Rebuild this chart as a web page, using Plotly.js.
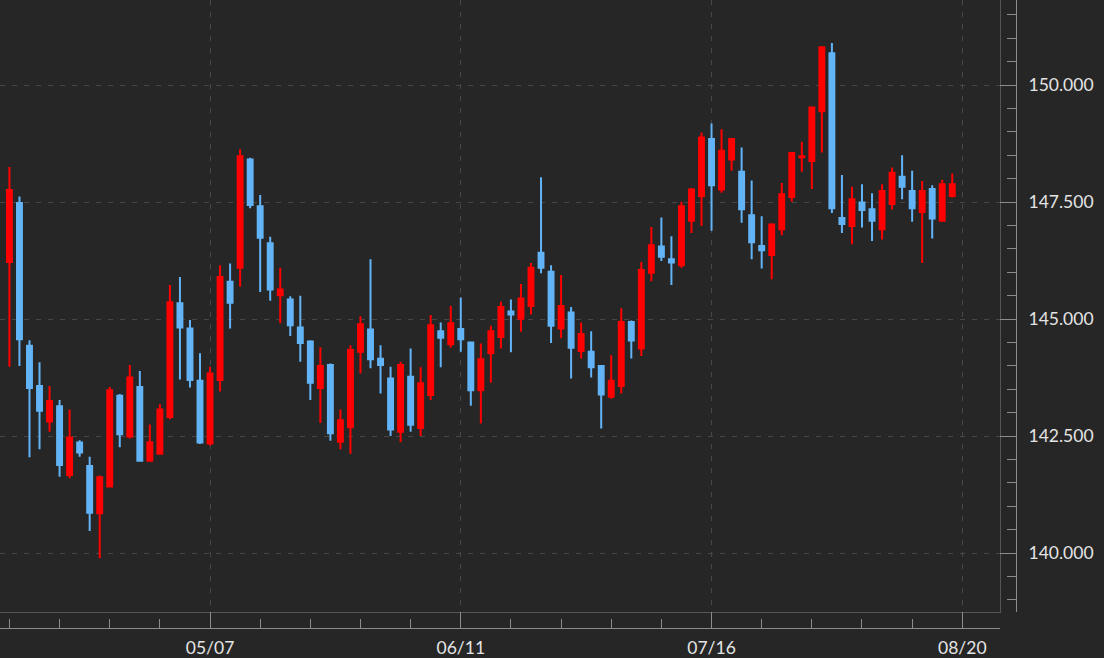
<!DOCTYPE html>
<html>
<head>
<meta charset="utf-8">
<script src="https://cdn.plot.ly/plotly-3.0.1.min.js"></script>
<style>
  html, body { margin: 0; padding: 0; background: #262626; }
  #chart { width: 1104px; height: 658px; }
</style>
</head>
<body>
<div id="chart"></div>
<script>
// Trading sessions (MM/DD); the last one (08/20) only carries an axis label
const sessions = [
  '04/09','04/10','04/11','04/12','04/15',
  '04/16','04/17','04/18','04/19','04/22',
  '04/23','04/24','04/25','04/26','04/29',
  '04/30','05/01','05/02','05/03','05/06',
  '05/07','05/08','05/09','05/10','05/13',
  '05/14','05/15','05/16','05/17','05/20',
  '05/21','05/22','05/23','05/24','05/27',
  '05/28','05/29','05/30','05/31','06/03',
  '06/04','06/05','06/06','06/07','06/10',
  '06/11','06/12','06/13','06/14','06/17',
  '06/18','06/19','06/20','06/21','06/24',
  '06/25','06/26','06/27','06/28','07/01',
  '07/02','07/03','07/04','07/05','07/08',
  '07/09','07/10','07/11','07/12','07/15',
  '07/16','07/17','07/18','07/19','07/22',
  '07/23','07/24','07/25','07/26','07/29',
  '07/30','07/31','08/01','08/02','08/05',
  '08/06','08/07','08/08','08/09','08/12',
  '08/13','08/14','08/15','08/16','08/19',
  '08/20'
];

const openP = [
  146.22,147.48,144.43,143.57,142.81,143.14,141.67,142.36,141.86,140.85,
  141.42,143.36,142.49,143.55,141.97,142.12,142.91,145.34,144.80,143.68,
  142.34,143.70,145.80,146.10,148.41,147.41,146.62,145.51,145.42,144.82,
  144.52,143.53,144.02,142.38,142.69,144.30,144.78,144.15,143.73,142.59,
  143.77,142.67,143.38,144.74,144.46,144.79,144.50,143.48,144.27,144.62,
  145.16,145.01,145.28,146.42,146.01,144.80,145.14,144.32,144.30,144.00,
  143.34,143.57,144.94,144.37,145.99,146.55,146.28,146.15,147.10,147.63,
  148.85,147.77,148.41,148.15,147.22,146.56,146.37,146.92,147.61,148.46,
  148.38,149.44,150.68,147.16,146.99,147.49,147.35,146.92,147.46,148.04,
  147.74,147.29,147.78,147.10,147.63
];
const highP = [
  148.25,147.62,144.55,144.08,143.57,143.27,143.07,142.41,142.06,141.66,
  143.55,143.40,144.02,143.89,142.75,143.18,145.73,145.90,144.98,144.27,
  143.98,146.15,146.19,148.63,148.45,147.65,146.76,146.10,145.49,145.50,
  144.55,144.40,144.05,143.07,144.44,145.06,146.28,144.44,143.98,144.09,
  144.37,143.97,145.09,144.93,145.28,145.46,144.52,144.48,144.86,145.37,
  145.42,145.75,146.20,148.03,146.15,145.94,145.26,144.93,144.74,144.02,
  144.23,145.23,144.97,146.22,146.97,147.17,146.77,147.51,147.80,148.99,
  149.18,149.06,148.87,148.67,147.96,147.20,147.05,147.91,148.57,148.79,
  149.54,150.83,150.90,148.08,147.83,147.88,147.69,147.88,148.24,148.50,
  148.17,147.95,147.86,147.98,148.11
];
const lowP = [
  143.98,144.00,142.05,142.22,142.59,141.63,141.60,142.06,140.47,139.89,
  141.40,142.26,142.45,141.95,141.95,142.10,142.86,143.71,143.54,142.33,
  142.30,143.45,144.80,145.69,147.37,145.58,145.39,144.91,144.64,144.09,
  143.27,142.78,142.40,142.22,142.12,143.84,143.95,143.41,142.50,142.37,
  142.59,142.50,143.27,143.97,144.39,144.30,143.15,142.77,143.64,144.37,
  144.29,144.73,145.10,145.98,144.49,144.59,143.73,144.16,143.75,142.66,
  143.30,143.41,144.16,144.21,145.81,146.24,145.73,146.10,146.84,146.99,
  146.89,147.70,148.17,147.06,146.28,146.08,145.85,146.79,147.51,148.15,
  147.78,148.56,147.27,146.84,146.60,146.96,146.67,146.70,147.34,147.56,
  147.08,146.20,146.72,147.08,147.60
];
const closeP = [
  147.76,144.57,143.53,143.04,143.25,141.88,142.47,142.15,140.86,141.62,
  143.48,142.54,143.75,141.97,142.37,143.07,145.36,144.82,143.70,142.36,
  143.84,145.90,145.35,148.48,147.44,146.74,145.63,145.63,144.87,144.49,
  143.64,144.00,142.56,142.84,144.34,144.89,144.14,144.02,142.64,144.02,
  142.74,143.63,144.87,144.60,144.91,144.57,143.48,144.14,144.74,145.26,
  145.10,145.44,146.10,146.10,144.86,145.28,144.39,144.68,143.97,143.39,
  143.68,144.94,144.54,146.05,146.58,146.33,146.21,147.41,147.77,148.88,
  147.86,148.60,148.85,147.35,146.64,146.47,147.02,147.67,148.55,148.48,
  149.52,150.81,147.37,147.03,147.56,147.33,147.10,147.74,148.13,147.83,
  147.37,147.74,147.15,147.88,147.88
];

const majorLabels = ['05/07','06/11','07/16','08/20'];
const yTickStep = 2.5;
const yMinorStep = 0.5;

const candleX = openP.map((_, i) => i);
const majorIdx = majorLabels.map(l => sessions.indexOf(l));

const upColor = '#ff0000';
const downColor = '#62b4f7';
const xRange = [-0.94, 98.76];
const yRange = [138.74, 151.82];
const gridColor = '#474747';
const innerLine = '#555555';
const axisLine = '#8c8c8c';
const labelFont = { family: 'Lato, "Open Sans", sans-serif', size: 17.5, color: '#e4e4e4' };

const traces = [
  {
    type: 'candlestick',
    x: candleX,
    open: openP, high: highP, low: lowP, close: closeP,
    increasing: { line: { color: upColor, width: 2 }, fillcolor: upColor },
    decreasing: { line: { color: downColor, width: 2 }, fillcolor: downColor },
    whiskerwidth: 0,
    hoverinfo: 'x+y',
    showlegend: false
  },
  { type: 'scatter', x: [], y: [], xaxis: 'x2', yaxis: 'y2', showlegend: false, hoverinfo: 'skip' }
];

const xDomain = [0, 1000 / 1016];
const yDomain = [16 / 628, 1];

const layout = {
  width: 1104, height: 658,
  paper_bgcolor: '#262626', plot_bgcolor: '#262626',
  margin: { l: 0, r: 88, t: 0, b: 30, pad: 0 },
  showlegend: false,
  boxgap: 0.3,
  xaxis: {
    domain: xDomain, range: xRange, type: 'linear',
    tickmode: 'array', tickvals: majorIdx, showticklabels: false, ticks: '',
    showgrid: true, gridcolor: gridColor, griddash: '5px,7px', gridwidth: 1,
    showline: true, linecolor: innerLine, linewidth: 1,
    zeroline: false, rangeslider: { visible: false }, fixedrange: true
  },
  yaxis: {
    domain: yDomain, range: yRange, side: 'right',
    tick0: 0, dtick: yTickStep, showticklabels: false, ticks: '',
    showgrid: true, gridcolor: gridColor, griddash: '5px,7px', gridwidth: 1,
    showline: true, linecolor: innerLine, linewidth: 1,
    zeroline: false, fixedrange: true
  },
  xaxis2: {
    overlaying: 'x', anchor: 'free', position: 0,
    domain: xDomain, range: xRange, type: 'linear',
    tickmode: 'array', tickvals: majorIdx, ticktext: majorLabels,
    ticks: 'inside', ticklen: 16, tickwidth: 1, tickcolor: axisLine,
    ticklabelstandoff: 4,
    showline: true, linecolor: axisLine, linewidth: 1,
    showgrid: false, zeroline: false, tickfont: labelFont,
    minor: { tick0: 0, dtick: 5, ticks: 'inside', ticklen: 9, tickwidth: 1, tickcolor: axisLine, showgrid: false },
    fixedrange: true
  },
  yaxis2: {
    overlaying: 'y', anchor: 'free', position: 1, side: 'right',
    domain: yDomain, range: yRange,
    tick0: 0, dtick: yTickStep, tickformat: '.3f',
    ticks: 'inside', ticklen: 16, tickwidth: 1, tickcolor: axisLine,
    ticklabelstandoff: 8,
    showline: true, linecolor: axisLine, linewidth: 1,
    showgrid: false, zeroline: false, tickfont: labelFont,
    minor: { tick0: 0, dtick: yMinorStep, ticks: 'inside', ticklen: 9, tickwidth: 1, tickcolor: axisLine, showgrid: false },
    fixedrange: true
  }
};

Plotly.newPlot('chart', traces, layout, { displayModeBar: false, staticPlot: true });
</script>
</body>
</html>
